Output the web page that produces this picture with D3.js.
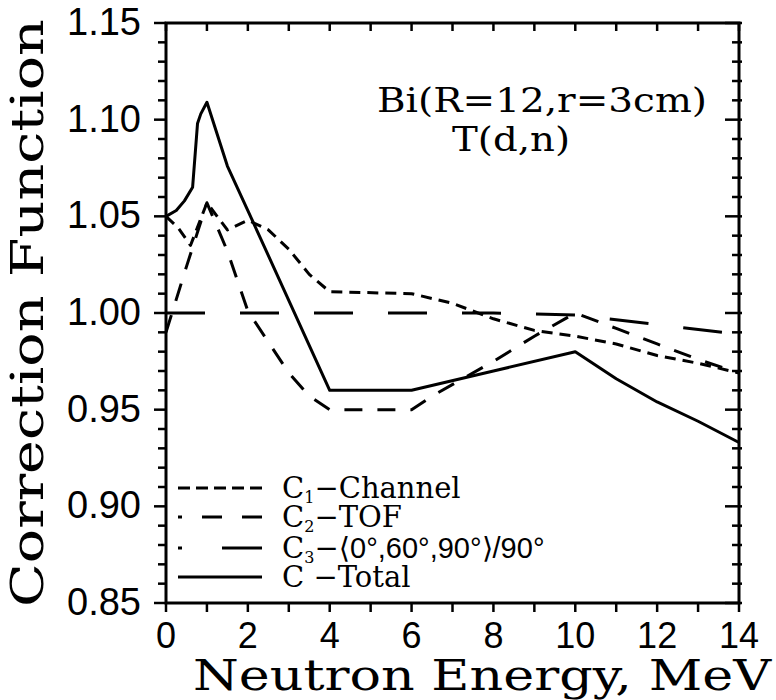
<!DOCTYPE html>
<html>
<head>
<meta charset="utf-8">
<script src="https://cdn.jsdelivr.net/npm/d3@7"></script>
<style>
  html, body { margin: 0; padding: 0; background: #fff; }
  svg { display: block; }
</style>
</head>
<body>
<svg id="chart" width="776" height="700"></svg>
<script>
// ---- data ----
const energyC1 = [0, 0.3, 0.6, 1.0, 1.5, 2.0, 2.5, 3.0, 3.5, 4.0, 6.0, 7.0, 8.0, 9.0, 10.0, 11.0, 12.0, 13.0, 14.0];
const c1Channel = [1.050, 1.044, 1.035, 1.057, 1.043, 1.048, 1.043, 1.033, 1.020, 1.011, 1.010, 1.005, 0.997, 0.991, 0.988, 0.984, 0.978, 0.974, 0.969];

const energyC2 = [0, 0.5, 1.0, 1.5, 2.0, 2.5, 3.0, 3.5, 4.0, 6.0, 6.5, 8.0, 9.0, 10.0, 11.0, 12.0, 13.0, 14.0];
const c2TOF = [0.990, 1.024, 1.057, 1.032, 1.001, 0.985, 0.969, 0.957, 0.950, 0.950, 0.957, 0.975, 0.988, 1.000, 0.992, 0.984, 0.976, 0.969];

const energyC3 = [0, 8.0, 10.0, 12.0, 14.0];
const c3Angle = [1.000, 1.000, 0.999, 0.994, 0.989];

const energyTotal = [0, 0.25, 0.45, 0.65, 0.77, 0.85, 1.0, 1.5, 2.0, 4.0, 6.0, 8.0, 10.0, 11.0, 12.0, 13.0, 14.0];
const cTotal = [1.050, 1.053, 1.058, 1.065, 1.098, 1.103, 1.109, 1.076, 1.053, 0.960, 0.960, 0.970, 0.980, 0.966, 0.954, 0.944, 0.933];

const xTickValues = [0, 2, 4, 6, 8, 10, 12, 14];
const xTickLabels = ["0", "2", "4", "6", "8", "10", "12", "14"];
const yTickValues = [0.85, 0.90, 0.95, 1.00, 1.05, 1.10, 1.15];
const yTickLabels = ["0.85", "0.90", "0.95", "1.00", "1.05", "1.10", "1.15"];

// ---- layout ----
const svg = d3.select("#chart");
const x = d3.scaleLinear().domain([0, 14]).range([166, 739]);
const y = d3.scaleLinear().domain([0.85, 1.15]).range([603, 23]);

const sw = 3;
const ink = "#000";

// series
const series = [
  { e: energyC1, v: c1Channel, dash: "11,7" },
  { e: energyC2, v: c2TOF, dash: "18,15" },
  { e: energyC3, v: c3Angle, dash: "39,35" },
  { e: energyTotal, v: cTotal, dash: null }
];
const line = d3.line().x(d => x(d[0])).y(d => y(d[1]));

const plot = svg.append("g");
series.forEach(s => {
  plot.append("path")
    .datum(s.e.map((e, i) => [e, s.v[i]]))
    .attr("d", line)
    .attr("fill", "none")
    .attr("stroke", ink)
    .attr("stroke-width", sw)
    .attr("stroke-linejoin", "round")
    .attr("stroke-dasharray", s.dash);
});

// frame
const [x0, x1] = x.range();
const [y0, y1] = y.range();
svg.append("rect")
  .attr("x", x0).attr("y", y1)
  .attr("width", x1 - x0).attr("height", y0 - y1)
  .attr("fill", "none").attr("stroke", ink).attr("stroke-width", sw);

// ticks
const tk = svg.append("g").attr("stroke", ink).attr("stroke-width", 2.5);
d3.range(0, 15, 1).forEach(v => {
  tk.append("line").attr("x1", x(v)).attr("x2", x(v)).attr("y1", y0).attr("y2", y0 + 9);
  tk.append("line").attr("x1", x(v)).attr("x2", x(v)).attr("y1", y1).attr("y2", y1 + 8);
});
d3.range(0, 31, 1).forEach(i => {
  const v = 0.85 + i * 0.01;
  const major = i % 5 === 0;
  tk.append("line").attr("x1", x0 - (major ? 12 : 8)).attr("x2", x0).attr("y1", y(v)).attr("y2", y(v));
  tk.append("line").attr("x1", x1 - (major ? 14 : 7)).attr("x2", x1 + 3).attr("y1", y(v)).attr("y2", y(v));
});

// tick labels
const tickFont = "'Liberation Sans', Arial, sans-serif";
svg.append("g").selectAll("text").data(xTickValues).join("text")
  .attr("x", d => x(d)).attr("y", 648)
  .attr("text-anchor", "middle")
  .attr("font-family", tickFont).attr("font-size", 36)
  .text((d, i) => xTickLabels[i]);
svg.append("g").selectAll("text").data(yTickValues).join("text")
  .attr("x", 141).attr("y", d => y(d) + 12)
  .attr("text-anchor", "end")
  .attr("font-family", tickFont).attr("font-size", 38)
  .text((d, i) => yTickLabels[i]);

// axis titles
const slab = "'DejaVu Serif', serif";
svg.append("text")
  .attr("x", 482).attr("y", 690)
  .attr("text-anchor", "middle")
  .attr("font-family", slab).attr("font-size", 42)
  .attr("textLength", 578).attr("lengthAdjust", "spacingAndGlyphs")
  .text("Neutron Energy, MeV");
svg.append("text")
  .attr("transform", "translate(43,313) rotate(-90)")
  .attr("text-anchor", "middle")
  .attr("font-family", slab).attr("font-size", 45)
  .attr("textLength", 588).attr("lengthAdjust", "spacingAndGlyphs")
  .text("Correction Function");

// annotation
const serif = "'DejaVu Serif', 'Liberation Serif', serif";
svg.append("text")
  .attr("x", 377).attr("y", 112)
  .attr("font-family", serif).attr("font-size", 33)
  .attr("textLength", 330).attr("lengthAdjust", "spacingAndGlyphs")
  .text("Bi(R=12,r=3cm)");
svg.append("text")
  .attr("x", 452).attr("y", 151)
  .attr("font-family", serif).attr("font-size", 33)
  .attr("textLength", 118).attr("lengthAdjust", "spacingAndGlyphs")
  .text("T(d,n)");

// legend
const legendRows = [
  { y: 488, dash: "12,6" },
  { y: 517, dash: "20,20" },
  { y: 548, dash: "40,40" },
  { y: 577, dash: null }
];
const lg = svg.append("g");
legendRows.forEach((r, i) => {
  lg.append("line")
    .attr("x1", 262).attr("x2", 178).attr("y1", r.y).attr("y2", r.y)
    .attr("stroke", ink).attr("stroke-width", sw)
    .attr("stroke-dasharray", r.dash);
  const t = lg.append("text")
    .attr("x", 282).attr("y", r.y + 10)
    .attr("font-family", serif).attr("font-size", 29);
  if (i === 0) {
    t.append("tspan").text("C");
    t.append("tspan").attr("font-size", 16).attr("dy", 5).text("1");
    t.append("tspan").attr("dy", -5).text("\u2212Channel");
  } else if (i === 1) {
    t.append("tspan").text("C");
    t.append("tspan").attr("font-size", 16).attr("dy", 5).text("2");
    t.append("tspan").attr("dy", -5).text("\u2212TOF");
  } else if (i === 2) {
    t.append("tspan").text("C");
    t.append("tspan").attr("font-size", 16).attr("dy", 5).text("3");
    t.append("tspan").attr("dy", -5).text("\u2212\u27E8");
    t.append("tspan").attr("font-family", tickFont).text("0\u00B0,60\u00B0,90\u00B0\u27E9/90\u00B0");
  } else {
    t.append("tspan").text("C  \u2212Total");
  }
});
</script>
</body>
</html>
